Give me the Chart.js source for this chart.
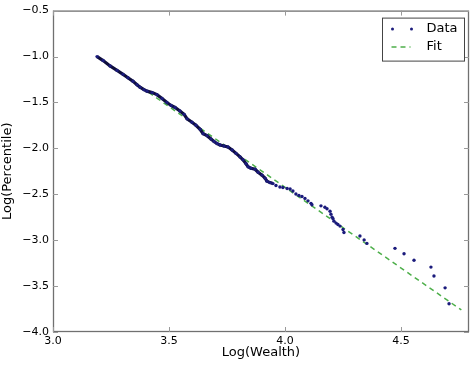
<!DOCTYPE html>
<html>
<head>
<meta charset="utf-8">
<script src="https://cdn.jsdelivr.net/npm/chart.js@4.4.1/dist/chart.umd.min.js"></script>
<style>
  html, body { margin: 0; padding: 0; background: #fff; }
  #wrap { width: 473px; height: 368px; }
</style>
</head>
<body>
<div id="wrap"><canvas id="powerChart" width="473" height="368"></canvas></div>
<script>
// values: log(wealth) vs log(percentile)
const wealthLog = [
  3.190, 3.216, 3.246, 3.276, 3.302, 3.323, 3.345, 3.362, 3.375, 3.392,
  3.405, 3.427, 3.448, 3.470, 3.491, 3.509, 3.526, 3.547, 3.565, 3.578,
  3.599, 3.616, 3.634, 3.647, 3.664, 3.681, 3.694, 3.707, 3.720, 3.737,
  3.754, 3.772, 3.789, 3.806, 3.819, 3.832, 3.841, 3.853, 3.871, 3.884,
  3.901, 3.914, 3.922, 3.935, 3.948, 3.961, 3.978, 3.991, 4.009, 4.022,
  4.034, 4.047, 4.060, 4.073, 4.086, 4.099, 4.112, 4.116, 4.155, 4.172,
  4.181, 4.194, 4.198, 4.203, 4.207, 4.211, 4.220, 4.228, 4.237, 4.250,
  4.254, 4.323, 4.341, 4.353, 4.474, 4.513, 4.556, 4.629, 4.642, 4.690,
  4.707
];
const percentileLog = [
  -1.001, -1.044, -1.103, -1.151, -1.194, -1.232, -1.270, -1.307, -1.334, -1.361,
  -1.377, -1.393, -1.415, -1.458, -1.501, -1.533, -1.555, -1.593, -1.630, -1.679,
  -1.716, -1.749, -1.792, -1.840, -1.862, -1.899, -1.926, -1.948, -1.964, -1.975,
  -1.986, -2.018, -2.055, -2.093, -2.125, -2.168, -2.201, -2.217, -2.228, -2.260,
  -2.292, -2.325, -2.357, -2.373, -2.384, -2.405, -2.421, -2.427, -2.438, -2.443,
  -2.464, -2.497, -2.513, -2.524, -2.545, -2.572, -2.599, -2.615, -2.626, -2.642,
  -2.658, -2.685, -2.717, -2.750, -2.766, -2.793, -2.814, -2.830, -2.847, -2.884,
  -2.917, -2.954, -2.997, -3.035, -3.089, -3.148, -3.218, -3.293, -3.390, -3.519,
  -3.692
];
// fitted line end points
const fitX = [3.19, 4.76];
const fitY = [-1.00, -3.76];

const xTicks = [3.0, 3.5, 4.0, 4.5];
const yTicks = [-4.0, -3.5, -3.0, -2.5, -2.0, -1.5, -1.0, -0.5];
const denseEnd = 3.95; // points are packed into a solid trace below this

const dataColor = '#1b1b7c';
const denseColor = '#0e0e3c';
const fitColor = '#4daf4a';
const fontFamily = '"DejaVu Sans", sans-serif';

const fmt = v => (v < 0 ? '\u2212' : '') + Math.abs(v).toFixed(1);

// matplotlib style frame, inward ticks and inset legend
const framePlugin = {
  id: 'frame',
  afterDraw(chart) {
    const { ctx, chartArea: a, scales } = chart;
    const tl = 5;
    ctx.save();
    ctx.strokeStyle = '#707070';
    ctx.lineWidth = 1.3;
    ctx.strokeRect(a.left + 0.5, a.top + 0.5, a.right - a.left - 1, a.bottom - a.top - 1);
    ctx.lineWidth = 1;
    ctx.strokeStyle = '#999';
    ctx.beginPath();
    xTicks.forEach(v => {
      const x = Math.round(scales.x.getPixelForValue(v)) + 0.5;
      ctx.moveTo(x, a.bottom); ctx.lineTo(x, a.bottom - tl);
      ctx.moveTo(x, a.top); ctx.lineTo(x, a.top + tl);
    });
    yTicks.forEach(v => {
      const y = Math.round(scales.y.getPixelForValue(v)) + 0.5;
      ctx.moveTo(a.left, y); ctx.lineTo(a.left + tl, y);
      ctx.moveTo(a.right, y); ctx.lineTo(a.right - tl, y);
    });
    ctx.stroke();

    // legend box
    const bw = 82, bh = 43;
    const bx = a.right - bw - 4.5, by = a.top + 7.5;
    ctx.fillStyle = '#fff';
    ctx.fillRect(bx, by, bw, bh);
    ctx.strokeStyle = '#444';
    ctx.strokeRect(bx, by, bw, bh);
    const y1 = by + 11, y2 = by + 29;
    ctx.fillStyle = dataColor;
    [bx + 10, bx + 29].forEach(cx => {
      ctx.beginPath(); ctx.arc(cx, y1, 1.5, 0, Math.PI * 2); ctx.fill();
    });
    ctx.strokeStyle = fitColor;
    ctx.lineWidth = 1.5;
    ctx.setLineDash([5, 4]);
    ctx.beginPath(); ctx.moveTo(bx + 9, y2); ctx.lineTo(bx + 28, y2); ctx.stroke();
    ctx.setLineDash([]);
    ctx.fillStyle = '#000';
    ctx.font = '13px ' + fontFamily;
    ctx.textBaseline = 'middle';
    ctx.fillText('Data', bx + 44, y1);
    ctx.fillText('Fit', bx + 44, y2);
    ctx.restore();
  }
};

const ctx = document.getElementById('powerChart').getContext('2d');

const points = wealthLog.map((x, i) => ({ x: x, y: percentileLog[i] }));
const fitPoints = fitX.map((x, i) => ({ x: x, y: fitY[i] }));

new Chart(ctx, {
  type: 'scatter',
  data: {
    datasets: [
      {
        label: 'Data',
        data: points,
        order: 0,
        showLine: true,
        borderWidth: 3.2,
        segment: {
          borderColor: c => (c.p1.parsed.x <= denseEnd ? denseColor : 'rgba(0,0,0,0)')
        },
        pointRadius: 1.7,
        pointBorderWidth: 0,
        pointBackgroundColor: dataColor
      },
      {
        label: 'Fit',
        data: fitPoints,
        order: 1,
        showLine: true,
        borderColor: fitColor,
        borderWidth: 1.5,
        borderDash: [5, 4],
        pointRadius: 0
      }
    ]
  },
  options: {
    responsive: false,
    animation: false,
    layout: { padding: { top: 7, right: 4, left: 0, bottom: 0 } },
    plugins: {
      legend: { display: false },
      tooltip: { enabled: false }
    },
    scales: {
      x: {
        type: 'linear',
        min: 3.0,
        max: 4.793,
        afterBuildTicks: s => { s.ticks = xTicks.map(v => ({ value: v })); },
        afterFit: s => { s.height = 36; },
        grid: { display: false, drawTicks: false },
        border: { display: false },
        ticks: {
          padding: 3,
          color: '#000',
          font: { family: fontFamily, size: 11 },
          callback: v => fmt(v)
        },
        title: {
          display: true,
          text: 'Log(Wealth)',
          color: '#000',
          font: { family: fontFamily, size: 13 },
          padding: { top: 0, bottom: 8 }
        }
      },
      y: {
        min: -4.0,
        max: -0.5,
        afterBuildTicks: s => { s.ticks = yTicks.map(v => ({ value: v })); },
        afterFit: s => { s.width = 53; },
        grid: { display: false, drawTicks: false },
        border: { display: false },
        ticks: {
          padding: 4,
          color: '#000',
          font: { family: fontFamily, size: 11 },
          callback: v => fmt(v)
        },
        title: {
          display: true,
          text: 'Log(Percentile)',
          color: '#000',
          font: { family: fontFamily, size: 13 },
          padding: { top: 0, bottom: 0 }
        }
      }
    }
  },
  plugins: [framePlugin]
});
</script>
</body>
</html>
